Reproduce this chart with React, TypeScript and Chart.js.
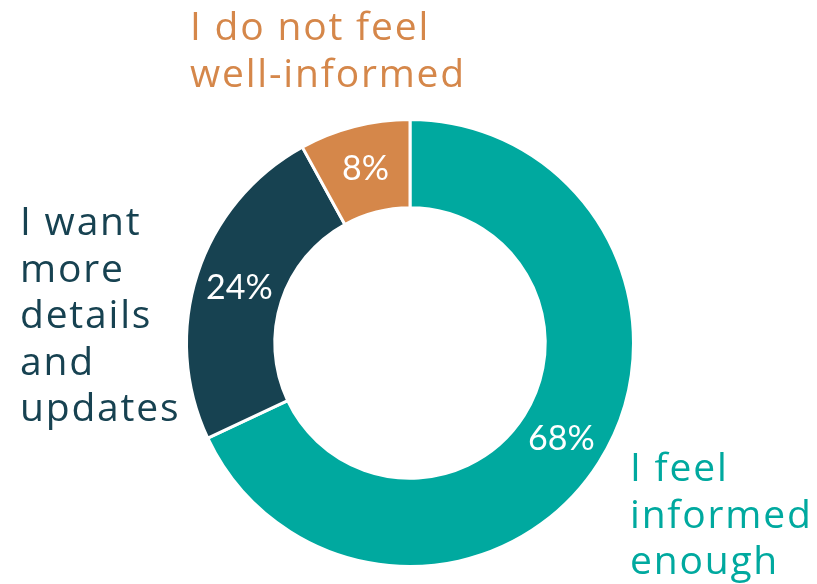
import React, { useEffect, useRef } from "react";
import { Chart, registerables } from "chart.js";

Chart.register(...registerables);

const categories = ["I feel informed enough", "I want more details and updates", "I do not feel well-informed"];
const values = [68, 24, 8];
const colors = ["#00A99F", "#174251", "#D5874A"];
const labelLines = [
  ["I feel", "informed", "enough"],
  ["I want", "more", "details", "and", "updates"],
  ["I do not feel", "well-informed"],
];
const labelAnchors = [
  { x: 630, y: 481 },
  { x: 20, y: 235 },
  { x: 190, y: 40 },
];

const labelPlugin = {
  id: "labels",
  afterDraw(chart: any) {
    const ctx = chart.ctx;
    const meta = chart.getDatasetMeta(0);
    const total = values.reduce((a, b) => a + b, 0);
    ctx.save();
    ctx.fillStyle = "#ffffff";
    ctx.font = "34px Lato";
    ctx.textAlign = "center";
    ctx.textBaseline = "middle";
    meta.data.forEach((arc: any, i: number) => {
      const p = arc.getProps(["x", "y", "startAngle", "endAngle", "innerRadius", "outerRadius"], true);
      const a = (p.startAngle + p.endAngle) / 2;
      const r = (p.innerRadius + p.outerRadius) / 2;
      ctx.fillText(Math.round((values[i] / total) * 100) + "%", p.x + Math.cos(a) * r, p.y + Math.sin(a) * r);
    });
    ctx.textAlign = "left";
    ctx.textBaseline = "alphabetic";
    ctx.font = "39px 'Open Sans'";
    (ctx as any).letterSpacing = "1.8px";
    labelLines.forEach((lines, i) => {
      ctx.fillStyle = colors[i];
      lines.forEach((t, j) => {
        ctx.fillText(t, labelAnchors[i].x, labelAnchors[i].y + j * 46.5);
      });
    });
    ctx.restore();
  },
};

export default function App() {
  const ref = useRef<HTMLCanvasElement>(null);
  useEffect(() => {
    document.body.style.margin = "0";
    const chart = new Chart(ref.current!, {
      type: "doughnut",
      data: {
        labels: categories,
        datasets: [
          {
            data: values,
            backgroundColor: colors,
            borderColor: "#ffffff",
            borderWidth: 3,
          },
        ],
      },
      options: {
        responsive: false,
        animation: false,
        cutout: "60.5%",
        layout: { padding: { top: 118, bottom: 16, left: 185, right: 182 } },
        plugins: { legend: { display: false }, tooltip: { enabled: false } },
      },
      plugins: [labelPlugin],
    });
    return () => chart.destroy();
  }, []);
  return (
    <div style={{ width: 817, height: 584 }}>
      <canvas ref={ref} width={817} height={584} />
    </div>
  );
}
